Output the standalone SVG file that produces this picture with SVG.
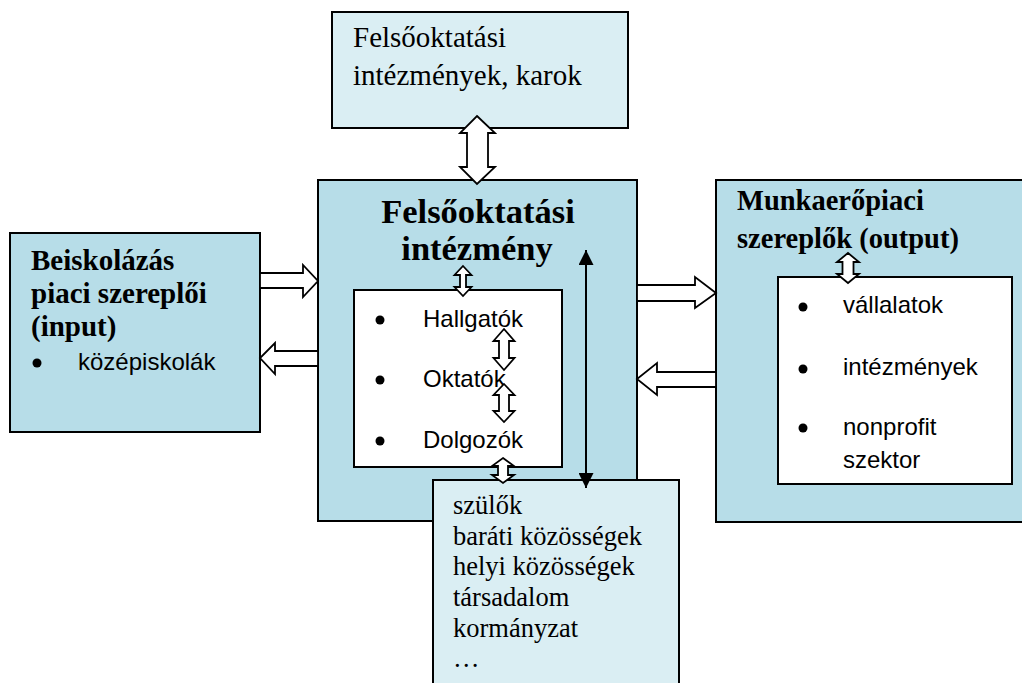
<svg xmlns="http://www.w3.org/2000/svg" width="1022" height="683" viewBox="0 0 1022 683">
<style>
.box{fill:#b7dde8;stroke:#000;stroke-width:2}
.lbox{fill:#daeef3;stroke:#000;stroke-width:2}
.wbox{fill:#fff;stroke:#000;stroke-width:2}
.serif{font-family:"Liberation Serif","Times New Roman",serif;fill:#000}
.b{font-weight:bold}
.sans{font-family:"Liberation Sans",Arial,sans-serif;font-size:24px;fill:#000}
.blk{fill:#fff;stroke:#000;stroke-width:1.8;stroke-linejoin:miter}
.dot{fill:#000}
</style>
<defs>
<marker id="tri" viewBox="0 0 10 10" refX="10" refY="5" markerWidth="15" markerHeight="15" markerUnits="userSpaceOnUse" orient="auto-start-reverse">
<path d="M0,0 L10,5 L0,10 Z" fill="#000"/>
</marker>
</defs>
<rect width="1022" height="683" fill="#fff"/>

<g id="top-node">
<rect class="lbox" x="332" y="12" width="296" height="116"/>
<text class="serif" font-size="29" x="353" y="47">Felsőoktatási</text>
<text class="serif" font-size="29" x="353" y="85">intézmények, karok</text>
</g>

<g id="left-node">
<rect class="box" x="10" y="233" width="250" height="199"/>
<text class="serif b" font-size="29" x="31" y="270">Beiskolázás</text>
<text class="serif b" font-size="29" x="31" y="303">piaci szereplői</text>
<text class="serif b" font-size="29" x="31" y="336">(input)</text>
<circle class="dot" cx="37" cy="363" r="4.5"/>
<text class="sans" x="78" y="370">középiskolák</text>
</g>

<g id="center-node">
<rect class="box" x="318" y="180" width="319" height="341"/>
<text class="serif b" font-size="34.5" x="478" y="223" text-anchor="middle">Felsőoktatási</text>
<text class="serif b" font-size="34.5" x="477" y="260" text-anchor="middle">intézmény</text>
<rect class="wbox" x="354" y="290" width="208" height="177"/>
<circle class="dot" cx="380" cy="320" r="4.5"/>
<text class="sans" x="423" y="327">Hallgatók</text>
<circle class="dot" cx="380" cy="380" r="4.5"/>
<text class="sans" x="423" y="387">Oktatók</text>
<circle class="dot" cx="380" cy="441" r="4.5"/>
<text class="sans" x="423" y="448">Dolgozók</text>
</g>

<g id="right-node">
<rect class="box" x="716" y="180" width="320" height="342"/>
<text class="serif b" font-size="28.5" x="737" y="210">Munkaerőpiaci</text>
<text class="serif b" font-size="28.5" x="737" y="248">szereplők (output)</text>
<rect class="wbox" x="778" y="277" width="234" height="207"/>
<circle class="dot" cx="803" cy="307" r="4.5"/>
<text class="sans" x="843" y="313">vállalatok</text>
<circle class="dot" cx="803" cy="369" r="4.5"/>
<text class="sans" x="843" y="375">intézmények</text>
<circle class="dot" cx="803" cy="428" r="4.5"/>
<text class="sans" x="843" y="435">nonprofit</text>
<text class="sans" x="843" y="468">szektor</text>
</g>

<g id="bottom-node">
<rect class="lbox" x="433" y="480" width="246" height="215"/>
<text class="serif" font-size="26.5" x="453" y="514">szülők</text>
<text class="serif" font-size="26.5" x="453" y="545">baráti közösségek</text>
<text class="serif" font-size="26.5" x="453" y="575">helyi közösségek</text>
<text class="serif" font-size="26.5" x="453" y="606">társadalom</text>
<text class="serif" font-size="26.5" x="453" y="637">kormányzat</text>
<text class="serif" font-size="26.5" x="453" y="667">…</text>
</g>

<g id="connectors">
<polygon class="blk" points="477,116 495,133 488,133 488,167 495,167 477,184 460,167 467,167 467,133 460,133"/>
<polygon class="blk" points="260,273 303,273 303,265 318,281 303,297 303,288 260,288"/>
<polygon class="blk" points="318,351 275,351 275,343 260,358 275,374 275,366 318,366"/>
<polygon class="blk" points="637,285 695,285 695,277 716,293 695,308 695,301 637,301"/>
<polygon class="blk" points="716,372 657,372 657,363 637,379 657,395 657,387 716,387"/>
<polygon class="blk" points="463,266 471.5,275 466,275 466,287 471.5,287 463,296 454.5,287 460,287 460,275 454.5,275"/>
<polygon class="blk" points="504,329 514.5,341 509,341 509,358 514.5,358 504,370 493.5,358 499,358 499,341 493.5,341"/>
<polygon class="blk" points="504,384 514.5,395 509,395 509,411 514.5,411 504,422 493.5,411 499,411 499,395 493.5,395"/>
<polygon class="blk" points="503,458 514,466 508,466 508,475 514,475 503,483 492,475 498,475 498,466 492,466"/>
<polygon class="blk" points="848,253 859,262 853.5,262 853.5,274 859,274 848,283 837,274 842.5,274 842.5,262 837,262"/>
<line x1="586" y1="250" x2="586" y2="488" stroke="#000" stroke-width="2" marker-start="url(#tri)" marker-end="url(#tri)"/>
</g>
</svg>
